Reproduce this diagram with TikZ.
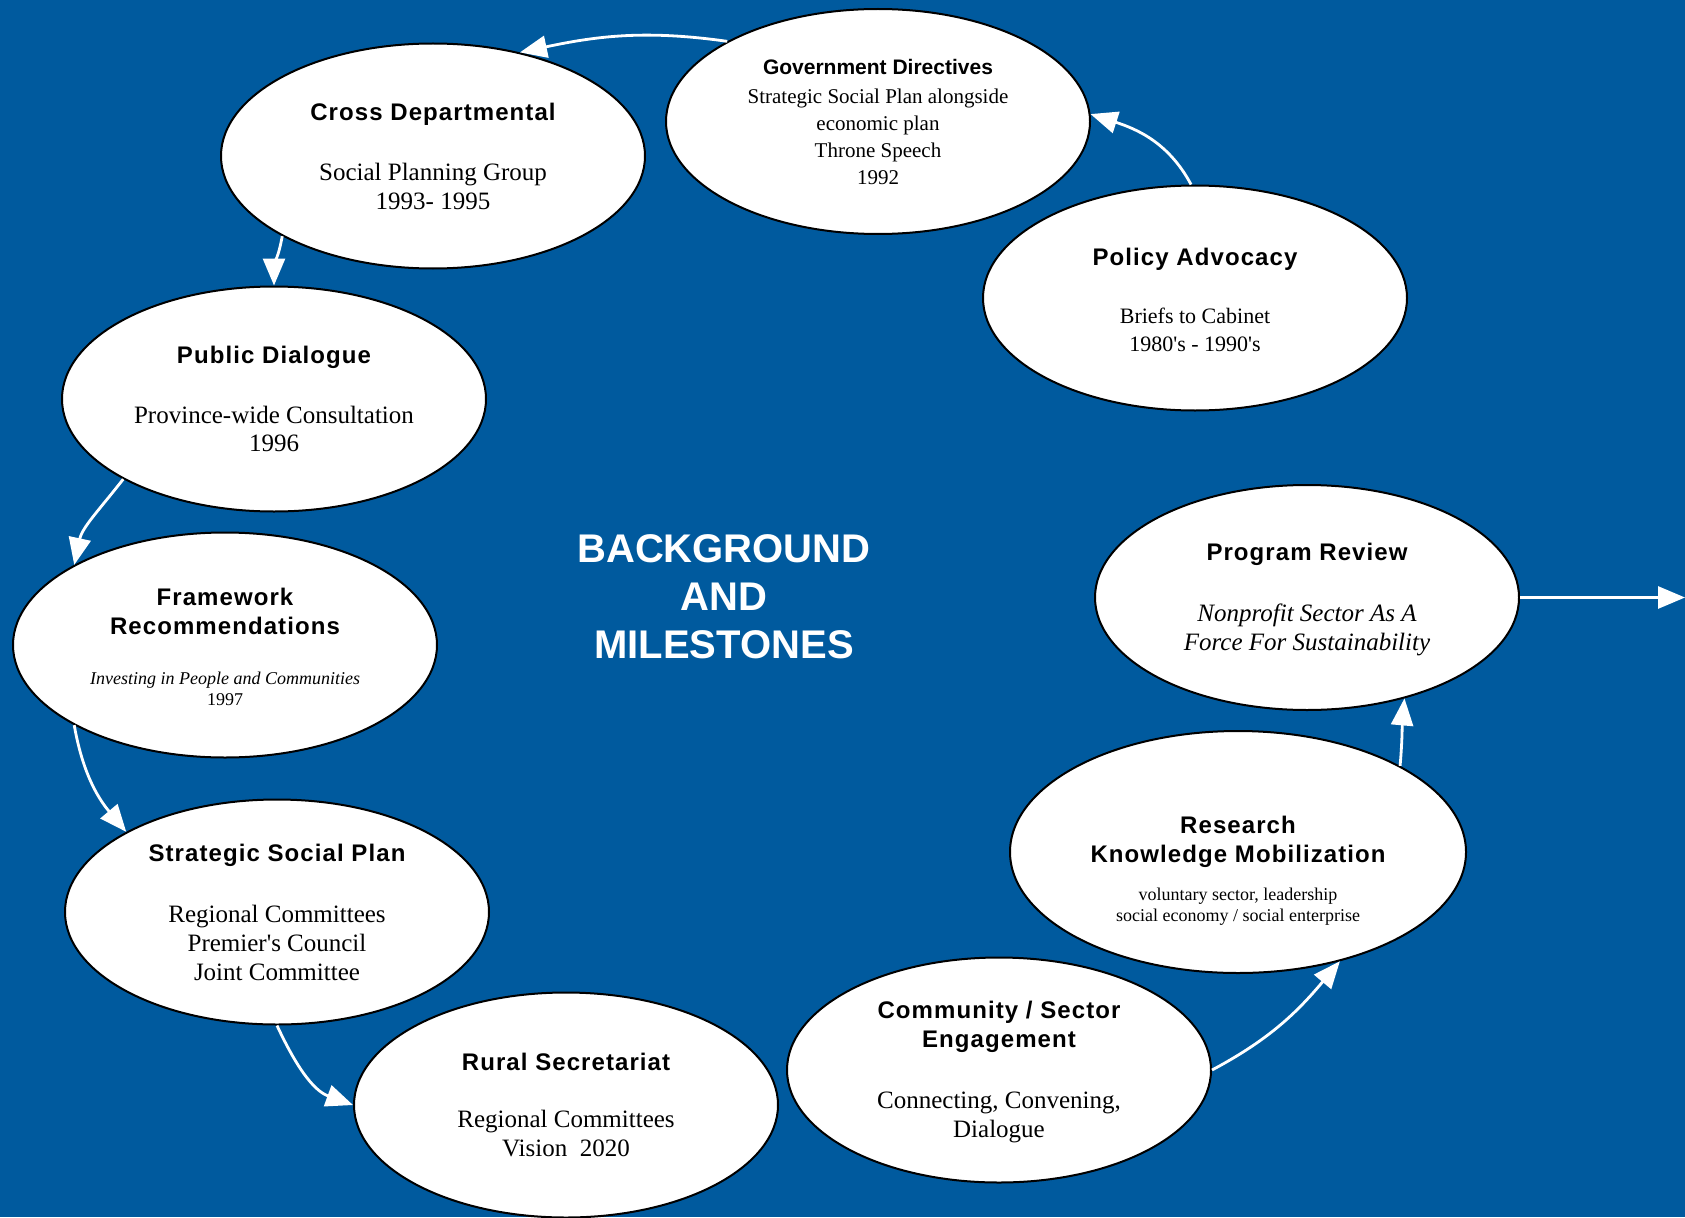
\documentclass[tikz,border=0pt]{standalone}
\usepackage{fontspec}
\setmainfont{Liberation Serif}[Ligatures=TeXOff]
\newfontfamily\hdfont{Liberation Sans}[LetterSpace=4.5]
\newfontfamily\hdplain{Liberation Sans}
\usetikzlibrary{arrows.meta,shapes.geometric}
\definecolor{bgblue}{RGB}{0,90,158}
\newcommand\HdTxt[2][24]{{\hdfont\bfseries\fontsize{#1}{29}\selectfont #2}}
\newcommand\HdPlain[2][21]{{\hdplain\bfseries\fontsize{#1}{29}\selectfont #2}}
\newcommand\SmallTxt[1]{{\fontsize{18}{29}\selectfont #1}}
\tikzset{
  milestone/.style={draw=black, line width=2pt, fill=white, ellipse,
    minimum width=424pt, minimum height=225pt, inner sep=0pt},
  mtext/.style={align=center, font=\fontsize{25}{29}\selectfont, inner sep=0pt, text=black},
  flow/.style={draw=white, line width=2.8pt, -{Triangle[length=27pt,width=22pt]}},
  titletext/.style={align=center, text=white, inner sep=0pt,
    font=\hdplain\bfseries\fontsize{40}{48}\selectfont},
}
\begin{document}
\begin{tikzpicture}[x=1pt,y=1pt]
\fill[bgblue] (0,0) rectangle (1685,-1217);
\useasboundingbox (0,0) rectangle (1685,-1217);

% ellipses
\node[milestone] (gd) at (878,-121.5) {};
\node[milestone] (cd) at (433,-156) {};
\node[milestone] (pa) at (1195,-298) {};
\node[milestone] (pd) at (274,-399) {};
\node[milestone] (fr) at (225,-645) {};
\node[milestone] (pr) at (1307,-597.5) {};
\node[milestone, minimum width=456pt, minimum height=242pt] (rk) at (1238,-852) {};
\node[milestone] (ssp) at (277,-912) {};
\node[milestone] (ce) at (999,-1070) {};
\node[milestone] (rs) at (566,-1105) {};

% texts
\node[mtext, font=\fontsize{21}{27}\selectfont] (gd-t) at (gd) {\HdPlain{Government Directives}\\[2pt]
  Strategic Social Plan alongside\\ economic plan\\ Throne Speech\\ 1992};
\node[mtext] (cd-t) at (cd) {\HdTxt{Cross Departmental}\\[31pt] Social Planning Group\\ 1993- 1995};
\node[mtext, font=\fontsize{22}{28}\selectfont] (pa-t) at ([yshift=-2pt]pa.center) {\HdTxt{Policy Advocacy}\\[30pt] Briefs to Cabinet\\ 1980's - 1990's};
\node[mtext, font=\fontsize{25}{28}\selectfont] (pd-t) at (pd) {\HdTxt{Public Dialogue}\\[32pt] Province-wide Consultation\\ 1996};
\node[mtext] (fr-t) at ([yshift=-2pt]fr.center) {\HdTxt{Framework}\\ \HdTxt{Recommendations}\\[20.5pt]
  \SmallTxt{\itshape Investing in People and Communities}\\[-7.5pt] \SmallTxt{1997}};
\node[mtext] (pr-t) at ([yshift=-2pt]pr.center) {\HdTxt{Program Review}\\[32pt] \textit{Nonprofit Sector As A}\\ \textit{Force For Sustainability}};
\node[mtext] (rk-t) at (1238,-871) {\HdTxt{Research}\\ \HdTxt{Knowledge Mobilization}\\[8.5pt]
  \SmallTxt{voluntary sector, leadership}\\[-7.5pt] \SmallTxt{social economy / social enterprise}};
\node[mtext] (ssp-t) at (ssp) {\HdTxt{Strategic Social Plan}\\[32pt] Regional Committees\\ Premier's Council\\ Joint Committee};
\node[mtext] (ce-t) at ([yshift=-2pt]ce.center) {\HdTxt{Community / Sector}\\ \HdTxt{Engagement}\\[32pt] Connecting, Convening,\\ Dialogue};
\node[mtext] (rs-t) at (rs) {\HdTxt{Rural Secretariat}\\[28pt] Regional Committees\\ Vision~~2020};

\node[titletext] (title) at (724,-597) {BACKGROUND\\AND\\MILESTONES};

% connectors
\coordinate (exit) at (1685,-597.5);
\draw[flow] (pa.92) to[out=118, in=-18] (gd.2);
\draw[flow] (gd.152) to[out=172, in=12] (cd.50);
\draw[flow] (cd.208) to[out=-100, in=90] (pd.90);
\draw[flow] (pd.208) to[out=-128, in=78] (fr.152);
\draw[flow] (fr.208) to[out=-80, in=130] (ssp.152);
\draw[flow] (ssp.270) to[out=-65, in=160] (rs.180);
\draw[flow] (ce.0) to[out=28, in=-130] (rk.-47);
\draw[flow] (rk.28) to[out=85, in=-95] (pr.-46);
\draw[flow] (pr.0) -- (exit);
\end{tikzpicture}
\end{document}
